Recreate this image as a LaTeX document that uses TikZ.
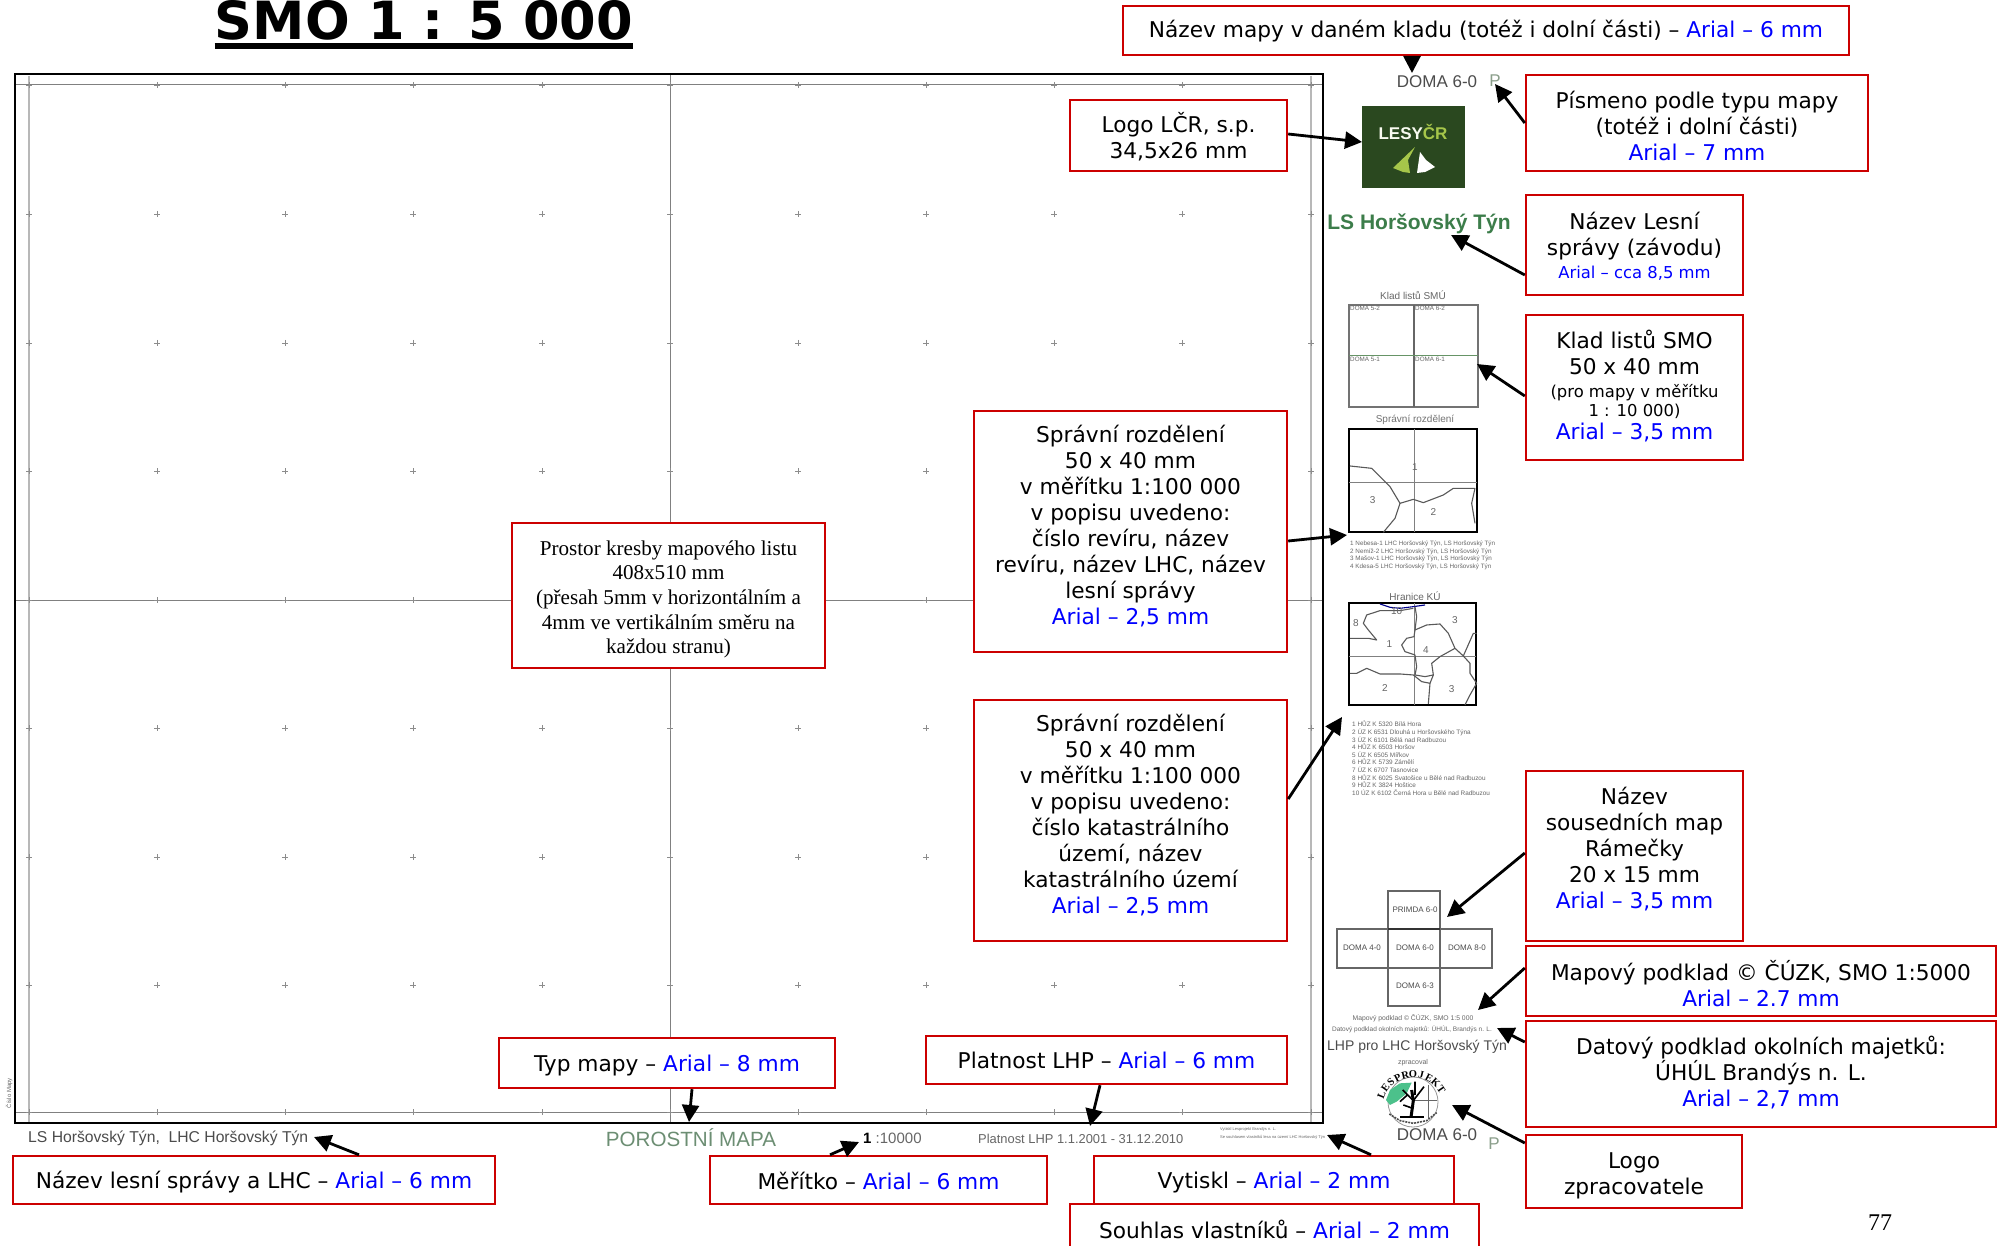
\documentclass[tikz,border=0pt]{standalone}
\usepackage{fontspec}
\setmainfont{DejaVu Sans}
\newfontfamily\ari{Liberation Sans}
\newfontfamily\tms{Liberation Serif}
\newfontfamily\ttl{DejaVu Sans}
\usetikzlibrary{arrows.meta}
\definecolor{boxred}{HTML}{CC0000}
\definecolor{bl}{HTML}{0000FF}
\definecolor{mapgreen}{HTML}{3C7D4A}
\definecolor{logogreen}{HTML}{2A481F}
\definecolor{lime}{HTML}{A6C64A}
\definecolor{tiny}{HTML}{666666}
\definecolor{pgrey}{HTML}{8A9E8A}
\newcommand{\B}[1]{\textcolor{bl}{#1}}
\newcommand{\sz}[2]{\fontsize{#1}{#2}\selectfont}
\tikzset{
  lbox/.style={draw=boxred,line width=2.4pt,fill=white,inner sep=0pt},
  ltxt/.style={align=center,inner sep=0pt,font=\sz{21.7}{26}},
  arr/.style={draw=black,line width=2.8pt,-{Triangle[length=17pt,width=17pt]},shorten >=0pt},
  gline/.style={draw=black!50,line width=1pt},
  gline2/.style={draw=black!28,line width=1.4pt},
  tick/.style={draw=black!45,line width=.8pt},
  inset/.style={draw=black,line width=1.5pt},
  maplbl/.style={inner sep=0pt,text=tiny,font=\ari\sz{6.3}{7.5}},
  smlbl/.style={inner sep=0pt,text=black!60,font=\ari\sz{10}{12}},
  curve/.style={draw=black!65,line width=1.1pt,line join=round},
  txt/.style={inner sep=0pt,anchor=center}
}
% box: [text style]{name}{cx}{cy}{w}{h}{text offset downwards}{text}
\newcommand{\lb}[8][]{%
  \node[lbox,minimum width=#5pt,minimum height=#6pt] (#2) at (#3,#4) {};
  \node[ltxt,#1,yshift=-#7pt] (#2t) at (#2.center) {#8};
}
\begin{document}
\begin{tikzpicture}[x=1pt,y=-1pt]
\useasboundingbox (0,0) rectangle (2002,1246);
\fill[white] (0,0) rectangle (2002,1246);

% ---- map frame
\draw[gline2] (29,76) -- (29,1123);
\draw[gline2] (1311,76) -- (1311,1123);
\draw[gline] (15,85) -- (1323,85);
\draw[gline] (15,1112) -- (1323,1112);
\draw[gline] (670,74) -- (670,1123);
\draw[gline] (15,600) -- (1323,600);
\foreach \x in {29,157,285,413,542,670,798,926,1054,1182,1311}
  \foreach \y in {85,214,343,471,600,728,857,985,1112}
    \draw[tick] (\x-3,\y) -- (\x+3,\y) (\x,\y-3) -- (\x,\y+3);
\node[draw=black,line width=1.4pt,inner sep=0pt,minimum width=1308pt,minimum height=1049pt] (frame) at (669,598.5) {};

% ---- title
\node[txt,font=\ttl\bfseries\sz{52.6}{53},anchor=base] (title) at (424,40) {SMO 1 : 5 000};
\draw[black,line width=6pt] ([yshift=-6pt]title.base west) -- ([yshift=-6pt]title.base east);

% ---- right column
\node[txt,font=\ari\sz{17}{20},text=black!70] (doma) at (1437,82) {DOMA 6-0};
\node[txt,font=\ari\sz{17}{20},text=pgrey] (pp) at (1495,81) {P};
\node[fill=logogreen,inner sep=0pt,minimum width=103pt,minimum height=82pt] (logo) at (1413.5,147) {};
\node[txt,font=\ari\bfseries\sz{17}{20}] (logotxt) at (1413,132) {\textcolor{white!92!lime}{LESY}\textcolor{lime}{ČR}};
\fill[lime] (1415,147) -- (1393,168) -- (1403,172) -- (1410,173) -- (1408,160) -- cycle;
\fill[white] (1420,152) -- (1417,173) -- (1425,172) -- (1435,167) -- (1426,160) -- cycle;
\node[txt,font=\ari\bfseries\sz{21}{24},text=mapgreen] (lsname) at (1419,224) {LS Horšovský Týn};

\node[txt,font=\ari\sz{10}{12},text=black!60] (kladt) at (1413,295) {Klad listů SMÚ};
\node[draw=black!55,line width=1.2pt,inner sep=0pt,minimum width=129pt,minimum height=102pt] (klad) at (1413.5,356) {};
\draw[black!60,line width=1.1pt] (1414,305) -- (1414,407);
\draw[black!40!green!50!black!60,line width=1pt] (1349,356) -- (1478,356);
\node[maplbl,anchor=north west] (k1) at (1350,306) {DOMA 5-2};
\node[maplbl,anchor=north west] (k2) at (1415,306) {DOMA 6-2};
\node[maplbl,anchor=north west] (k3) at (1350,357) {DOMA 5-1};
\node[maplbl,anchor=north west] (k4) at (1415,357) {DOMA 6-1};

\node[txt,font=\ari\sz{10}{12},text=black!55] (sprt) at (1415,420) {Správní rozdělení};
\node[inset,inner sep=0pt,minimum width=128pt,minimum height=103pt] (spr) at (1413,480.5) {};
\draw[gline] (1414,429) -- (1414,532) (1349,482) -- (1477,482);
\begin{scope}[shift={(1300,400)},x=0.3333pt,y=-0.3333pt]
  \draw[curve] (150,198) -- (215,205) -- (270,260) -- (300,310) -- (340,298) -- (370,308) -- (430,285) -- (460,265) -- (525,265);
  \draw[curve] (300,310) -- (285,355) -- (250,397);
  \draw[curve] (525,265) -- (515,310) -- (525,370);
  \node[smlbl] at (218,300) {3};
  \node[smlbl] at (345,200) {1};
  \node[smlbl] at (400,335) {2};
\end{scope}
\node[maplbl,anchor=north west,align=left] (sprl) at (1350,541) {1 Nebesa-1 LHC Horšovský Týn, LS Horšovský Týn\\2 Nemíž-2 LHC Horšovský Týn, LS Horšovský Týn\\3 Mašov-1 LHC Horšovský Týn, LS Horšovský Týn\\4 Kdesa-5 LHC Horšovský Týn, LS Horšovský Týn};

\node[txt,font=\ari\sz{10}{12},text=black!60] (hrat) at (1415,596) {Hranice KÚ};
\node[inset,inner sep=0pt,minimum width=127pt,minimum height=102pt] (hra) at (1412.5,654) {};
\draw[gline] (1414,603) -- (1414,705) (1349,656) -- (1476,656);
\begin{scope}[shift={(1300,400)},x=0.3333pt,y=-0.3333pt]
  \draw[curve,draw=blue!55!black] (240,612) -- (270,622) -- (300,625) -- (340,620) -- (375,615);
  \draw[curve] (150,715) -- (205,715) -- (230,720) -- (205,690) -- (190,670) -- (200,645) -- (240,632) -- (300,632) -- (340,625);
  \draw[curve] (345,620) -- (350,650) -- (345,690) -- (380,675) -- (420,672) -- (445,700) -- (465,745) -- (490,768) -- (520,700) -- (530,700);
  \draw[curve] (345,690) -- (342,710) -- (320,715) -- (305,735) -- (315,755) -- (345,765) -- (350,800) -- (345,825) -- (375,830) -- (400,825) -- (395,790) -- (420,770) -- (465,745);
  \draw[curve] (150,820) -- (170,820) -- (200,805) -- (240,822) -- (300,822) -- (340,825) -- (365,845) -- (390,850) -- (400,825);
  \draw[curve] (490,768) -- (510,790) -- (510,820) -- (530,850) -- (510,885) -- (495,915);
  \draw[curve] (390,850) -- (385,912);
  \node[smlbl] at (168,668) {8};
  \node[smlbl] at (290,632) {10};
  \node[smlbl] at (465,660) {3};
  \node[smlbl] at (268,732) {1};
  \node[smlbl] at (378,750) {4};
  \node[smlbl] at (255,865) {2};
  \node[smlbl] at (455,868) {3};
\end{scope}
\node[maplbl,anchor=north west,align=left,font=\ari\sz{6.4}{7.6}] (hral) at (1352,721) {1 HŮZ K 5320 Bílá Hora\\2 ÚZ K 6531 Dlouhá u Horšovského Týna\\3 ÚZ K 6101 Bělá nad Radbuzou\\4 HŮZ K 6503 Horšov\\5 ÚZ K 6505 Mířkov\\6 HŮZ K 5739 Zámělí\\7 ÚZ K 6707 Tasnovice\\8 HŮZ K 6025 Svatošice u Bělé nad Radbuzou\\9 HŮZ K 3824 Hoštice\\10 ÚZ K 6102 Černá Hora u Bělé nad Radbuzou};

\node[draw=black!60,line width=1.1pt,inner sep=0pt,minimum width=155pt,minimum height=39pt] (nbh) at (1414.5,948.5) {};
\node[draw=black!60,line width=1.1pt,inner sep=0pt,minimum width=52pt,minimum height=115pt] (nbv) at (1414,948.5) {};
\draw[black!80,line width=1.2pt] (1388,929) -- (1440,929);
\node[maplbl,font=\ari\sz{8}{9},text=black!70] (n1) at (1415,910) {PRIMDA 6-0};
\node[maplbl,font=\ari\sz{8}{9},text=black!70] (n2) at (1362,948) {DOMA 4-0};
\node[maplbl,font=\ari\sz{8}{9},text=black!70] (n3) at (1415,948) {DOMA 6-0};
\node[maplbl,font=\ari\sz{8}{9},text=black!70] (n4) at (1467,948) {DOMA 8-0};
\node[maplbl,font=\ari\sz{8}{9},text=black!70] (n5) at (1415,986) {DOMA 6-3};
\node[maplbl,font=\ari\sz{6.8}{8}] (podk) at (1413,1018) {Mapový podklad © ČÚZK, SMO 1:5 000};
\node[maplbl,font=\ari\sz{6.5}{8}] (dat) at (1412,1029) {Datový podklad okolních majetků: ÚHÚL, Brandýs n. L.};
\node[txt,font=\ari\sz{14}{16},text=black!70] (lhp) at (1417,1047) {LHP pro LHC Horšovský Týn};
\node[maplbl,font=\ari\sz{7}{8}] (zpr) at (1413,1063) {zpracoval};
% LESPROJEKT logo
\node[circle,draw=black!40,line width=.8pt,inner sep=0pt,minimum size=50pt] (lesp) at (1413,1102) {};
\begin{scope}[shift={(1300,860)},x=0.3333pt,y=-0.3333pt]
  \fill[teal!70!green!70] (258,720) -- (270,690) -- (300,670) -- (335,668) -- (320,700) -- (290,725) -- (270,735) -- cycle;
  \draw[black!60,line width=.7pt] (345,720) -- (412,720) (385,675) -- (385,775);
  \draw[black,line width=3pt] (333,772) -- (340,722) -- (335,690);
  \draw[black,line width=1.6pt] (340,722) -- (308,690) (340,722) -- (372,680) (322,705) -- (300,725) (345,705) -- (345,665) (338,745) -- (310,735);
  \draw[black,line width=2pt] (300,772) -- (372,772);
  \draw[black!70,line width=1.6pt,dash pattern=on 2pt off 1pt] (268,762) -- (300,782) -- (340,790) -- (380,782) -- (410,758);
\end{scope}
\begin{scope}[shift={(1413,1108)},x=1pt,y=1pt]
  \foreach \a/\c in {158/L,144/E,131/S,117/P,103/R,90/O,76/J,62/E,48/K,34/T}
    \node[inner sep=0pt,font=\tms\bfseries\sz{10.5}{11},rotate=\a-90] at (\a:34) {\c};
\end{scope}
\node[txt,font=\ari\sz{17}{20},text=black!70] (doma2) at (1437,1135) {DOMA 6-0};
\node[txt,font=\ari\sz{17}{20},text=pgrey] (pp2) at (1494,1144) {P};

% ---- bottom strip
\node[txt,anchor=west,font=\ari\sz{15.7}{18},text=black!70] (lhc) at (28,1138) {LS Horšovský Týn,\ \ LHC Horšovský Týn};
\node[txt,font=\ari\sz{20.6}{24},text=mapgreen!75!black!70] (typ) at (691,1138) {POROSTNÍ MAPA};
\node[txt,anchor=west,font=\ari\sz{15}{16},text=black!60] (mer) at (863,1138) {\textcolor{black}{\textbf{1}} :10000};
\node[txt,anchor=west,font=\ari\sz{12.9}{14},text=black!60] (pl) at (978,1139) {Platnost LHP 1.1.2001 - 31.12.2010};
\node[maplbl,anchor=north west,align=left,font=\ari\sz{4}{8}] (vyt) at (1220,1127) {Vytiskl Lesprojekt Brandýs n. L.\\Se souhlasem vlastníků lesa na území LHC Horšovský Týn};
\node[maplbl,rotate=90,font=\ari\sz{6}{7}] (rot) at (9,1093) {Číslo Mapy};

% ---- label boxes
\lb{bTop}{1486}{30.5}{726}{49}{1}{Název mapy v daném kladu (totéž i dolní části) – \B{Arial – 6 mm}}
\lb{bP}{1697}{123}{342}{96}{3}{Písmeno podle typu mapy\\(totéž i dolní části)\\\B{Arial – 7 mm}}
\lb{bLogo}{1178.5}{135.5}{217}{71}{1}{Logo LČR, s.p.\\34,5x26 mm}
\lb{bLS}{1634.5}{245}{217}{100}{1}{Název Lesní\\správy (závodu)\\[-3pt]{\sz{16.4}{20}\B{Arial – cca 8,5 mm}}}
\lb{bKlad}{1634.5}{387.5}{217}{145}{-1}{Klad listů SMO\\50 x 40 mm\\[-3pt]{\sz{16.4}{20}(pro mapy v měřítku}\\[-7pt]{\sz{16.4}{20}1 : 10 000)}\\[-3pt]\B{Arial – 3,5 mm}}
\lb{bS1}{1130.5}{531.5}{313}{241}{-5}{Správní rozdělení\\50 x 40 mm\\v měřítku 1:100 000\\v popisu uvedeno:\\číslo revíru, název\\revíru, název LHC, název\\lesní správy\\\B{Arial – 2,5 mm}}
\lb{bS2}{1130.5}{820.5}{313}{241}{-5}{Správní rozdělení\\50 x 40 mm\\v měřítku 1:100 000\\v popisu uvedeno:\\číslo katastrálního\\území, název\\katastrálního území\\\B{Arial – 2,5 mm}}
\lb[font=\tms\sz{21.1}{24.6}]{bPros}{668.5}{595.5}{313}{145}{4}{Prostor kresby mapového listu\\408x510 mm\\(přesah 5mm v horizontálním a\\4mm ve vertikálním směru na\\každou stranu)}
\lb{bSou}{1634.5}{856}{217}{170}{-7}{Název\\sousedních map\\Rámečky\\20 x 15 mm\\\B{Arial – 3,5 mm}}
\lb{bMap}{1761}{981}{470}{70}{2.5}{Mapový podklad © ČÚZK, SMO 1:5000\\\B{Arial – 2.7 mm}}
\lb{bDat}{1761}{1074}{470}{106}{-1}{Datový podklad okolních majetků:\\ÚHÚL Brandýs n. L.\\\B{Arial – 2,7 mm}}
\lb{bZpr}{1634}{1171.5}{216}{73}{4}{Logo\\zpracovatele}
\lb{bTyp}{667}{1063}{336}{50}{2.5}{Typ mapy – \B{Arial – 8 mm}}
\lb{bPla}{1106.5}{1060}{361}{48}{0}{Platnost LHP – \B{Arial – 6 mm}}
\lb{bLes}{254}{1180}{482}{48}{2.5}{Název lesní správy a LHC – \B{Arial – 6 mm}}
\lb{bMer}{878.5}{1180}{337}{48}{1}{Měřítko – \B{Arial – 6 mm}}
\lb{bVyt}{1274}{1180}{360}{48}{2.5}{Vytiskl – \B{Arial – 2 mm}}
\lb{bSou2}{1274.5}{1230}{409}{52}{-1}{Souhlas vlastníků – \B{Arial – 2 mm}}

\node[txt,font=\tms\sz{24}{28}] (pg) at (1880,1223) {77};

% ---- connector free ends
\coordinate (tTop) at (1412,73);
\coordinate (tP) at (1495,84);
\coordinate (tS1) at (1347,535);
\coordinate (tS2) at (1342,717);
\coordinate (tSou) at (1447,917);
\coordinate (tMap) at (1478,1010);
\coordinate (tDat) at (1497,1028);
\coordinate (tZpr) at (1452,1105);
\coordinate (tTyp) at (689,1122);
\coordinate (tPla) at (1090,1126);
\coordinate (tLes) at (314,1137);
\coordinate (tMer) at (859,1142);
\coordinate (tVyt) at (1327,1135);
\coordinate (tLS) at (1451,235);
\coordinate (tKlad) at (1477,364);
\coordinate (tLogo) at (1362,142);

\draw[arr] ([xshift=-74pt]bTop.south) -- (tTop);
\draw[arr] (bP.west) -- (tP);
\draw[arr] ([yshift=1.5pt]bLogo.east) -- (tLogo);
\draw[arr] ([yshift=-30pt]bLS.west) -- (tLS);
\draw[arr] ([yshift=-8.5pt]bKlad.west) -- (tKlad);
\draw[arr] ([yshift=-9.5pt]bS1.east) -- (tS1);
\draw[arr] ([yshift=21.5pt]bS2.east) -- (tS2);
\draw[arr] ([yshift=3pt]bSou.west) -- (tSou);
\draw[arr] ([yshift=13pt]bMap.west) -- (tMap);
\draw[arr] ([yshift=32pt]bDat.west) -- (tDat);
\draw[arr] ([yshift=28.5pt]bZpr.west) -- (tZpr);
\draw[arr] ([xshift=25pt]bTyp.south) -- (tTyp);
\draw[arr] ([xshift=-6.5pt]bPla.south) -- (tPla);
\draw[arr] ([xshift=105pt]bLes.north) -- (tLes);
\draw[arr] ([xshift=-48.5pt]bMer.north) -- (tMer);
\draw[arr] ([xshift=97pt]bVyt.north) -- (tVyt);
\end{tikzpicture}
\end{document}
